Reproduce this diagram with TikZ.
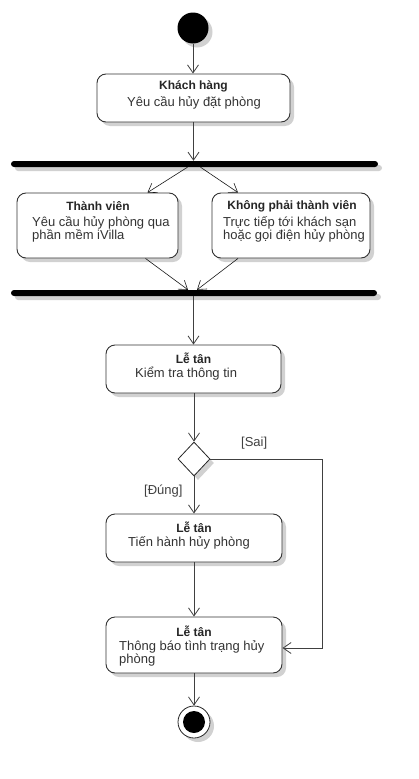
\documentclass[tikz,border=0pt]{standalone}
\usepackage{fontspec}
\setmainfont{Liberation Sans}
\usetikzlibrary{arrows.meta,shapes.geometric,shadows,calc}
\begin{document}
\begin{tikzpicture}[x=1pt,y=-1pt,
  shad/.style={drop shadow={opacity=0.18,shadow xshift=4pt,shadow yshift=-4pt,fill=black}},
  actbox/.style={draw=black!80,line width=0.9pt,rounded corners=9pt,fill=white,shad,inner sep=0pt},
  bar/.style={fill=black,rounded corners=3pt,minimum height=6pt,inner sep=0pt,shad},
  arr/.style={draw=black!75,line width=0.9pt,-{Straight Barb[length=8pt,width=11pt,line width=0.8pt]}},
  thinarr/.style={draw=black!90,line width=0.6pt,-{Straight Barb[length=8pt,width=11pt,line width=0.6pt]}},
  ttl/.style={font=\fontsize{12}{14}\selectfont\bfseries,text=black!85,inner sep=0pt},
  body/.style={font=\fontsize{13}{15}\selectfont,text=black!80,inner sep=0pt,anchor=west},
  cbody/.style={font=\fontsize{13}{15}\selectfont,text=black!80,inner sep=0pt},
  lbl/.style={font=\fontsize{13}{15}\selectfont,text=black!75,inner sep=0pt,anchor=west}
]
\useasboundingbox (0,0) rectangle (418,779);
% start
\node[circle,fill=black,minimum size=31pt,inner sep=0pt,shad] (start) at (193,28) {};
% box 1
\node[actbox,minimum width=193pt,minimum height=48pt] (b1) at (193.5,98) {};
\node[ttl] (t1) at (193.5,86) {Khách hàng};
\node[cbody] (d1) at (194,103) {Yêu cầu hủy đặt phòng};
% bar 1
\node[bar,minimum width=367pt] (bar1) at (194.5,164) {};
% member boxes
\node[actbox,minimum width=161pt,minimum height=65pt] (tv) at (97.5,225.5) {};
\node[ttl] (t2) at (98,206) {Thành viên};
\node[body] (d2a) at (32,223) {Yêu cầu hủy phòng qua};
\node[body] (d2b) at (32,236) {phần mềm iVilla};
\node[actbox,minimum width=158pt,minimum height=65pt] (kp) at (291,225.5) {};
\node[ttl] (t3) at (292,206) {Không phải thành viên};
\node[body] (d3a) at (223,223) {Trực tiếp tới khách sạn};
\node[body] (d3b) at (223,236) {hoặc gọi điện hủy phòng};
% bar 2
\node[bar,minimum width=366pt] (bar2) at (194,293) {};
% box 3
\node[actbox,minimum width=175pt,minimum height=48pt] (b3) at (193.5,369) {};
\node[ttl] (t4) at (193.5,358) {Lễ tân};
\node[body] (d4) at (135,374) {Kiểm tra thông tin};
% diamond
\node[diamond,draw=black!85,line width=0.8pt,fill=white,minimum width=32pt,minimum height=34pt,inner sep=0pt,shad] (dia) at (194,459) {};
\node[lbl] (sai) at (241,443) {[Sai]};
\node[lbl] (dung) at (144,491) {[Đúng]};
% box 4
\node[actbox,minimum width=176pt,minimum height=48pt] (b4) at (194,538) {};
\node[ttl] (t5) at (194,527) {Lễ tân};
\node[body] (d5) at (128,543) {Tiến hành hủy phòng};
% box 5
\node[actbox,minimum width=176pt,minimum height=56pt] (b5) at (194,645) {};
\node[ttl] (t6) at (194,631) {Lễ tân};
\node[body] (d6a) at (119,647) {Thông báo tình trạng hủy};
\node[body] (d6b) at (119,660) {phòng};
% end
\node[circle,draw=black!85,line width=0.8pt,fill=white,minimum size=32pt,inner sep=0pt,shad] (endn) at (194,722) {};
\fill[black] (endn.center) circle (11pt);
% connectors
\draw[arr] (start) -- (start |- b1.north);
\draw[arr] (b1) -- (b1.south |- bar1.north);
\draw[thinarr] ([xshift=-7pt]bar1.south) -- ([xshift=50pt]tv.north);
\draw[thinarr] ([xshift=6pt]bar1.south) -- ([xshift=-53pt]kp.north);
\draw[thinarr] ([xshift=48pt]tv.south) -- ([xshift=-6pt]bar2.north);
\draw[thinarr] ([xshift=-53pt]kp.south) -- ([xshift=3pt]bar2.north);
\draw[arr] (bar2.south -| b3.north) -- (b3.north);
\draw[arr] (b3.south -| dia.north) -- (dia.north);
\draw[arr] (dia.south) -- (dia.south |- b4.north);
\draw[arr] (dia.east) -- (322,459) |- ([yshift=-3pt]b5.east);
\draw[arr] (b4.south -| b5.north) -- (b5.north);
\draw[arr] (b5.south -| endn.north) -- (endn.north);
\end{tikzpicture}
\end{document}
